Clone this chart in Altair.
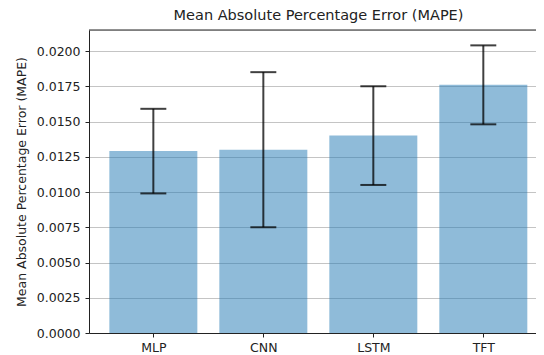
import altair as alt
import pandas as pd

models = ["MLP", "CNN", "LSTM", "TFT"]
mape_mean = [0.0129, 0.0130, 0.0140, 0.0176]
mape_err = [0.0030, 0.0055, 0.0035, 0.0028]
y_ticks = [0.0, 0.0025, 0.005, 0.0075, 0.01, 0.0125, 0.015, 0.0175, 0.02]

positions = list(range(len(models)))
df = pd.DataFrame({
    "model": models,
    "pos": positions,
    "mean": mape_mean,
    "err": mape_err,
})
df["x0"] = df["pos"] - 0.4
df["x1"] = df["pos"] + 0.4
df["lo"] = df["mean"] - df["err"]
df["hi"] = df["mean"] + df["err"]
df["c0"] = df["pos"] - 0.118
df["c1"] = df["pos"] + 0.118

W, H = 447, 303
label_expr = "[" + ",".join(f"'{m}'" for m in models) + "][datum.value]"

xscale = alt.Scale(domain=[-0.585, 3.479], nice=False, zero=False)
yscale = alt.Scale(domain=[0, 0.02149], nice=False, zero=True)

xaxis = alt.Axis(values=positions, labelExpr=label_expr, title=None, grid=False,
                 tickSize=4, tickColor="#222222", domainColor="#222222",
                 labelFontSize=12.5, labelColor="#222222", labelFont="DejaVu Sans",
                 labelPadding=4, labelAngle=0, labelOverlap=False)
yaxis = alt.Axis(values=y_ticks, format=".4f", tickCount=9,
                 title="Mean Absolute Percentage Error (MAPE)",
                 titleFontSize=12.5, titleFontWeight="normal", titleColor="#222222",
                 titleFont="DejaVu Sans", titlePadding=8,
                 grid=True, gridColor="#c4c4c4", gridWidth=1,
                 tickSize=4, tickColor="#222222", domainColor="#222222",
                 labelFontSize=12.5, labelColor="#222222", labelFont="DejaVu Sans",
                 labelPadding=5, labelOverlap=False, labelFlush=False)

base = alt.Chart(df)

bars = base.mark_bar(color="#1f77b4", opacity=0.5).encode(
    x=alt.X("x0:Q", scale=xscale, axis=xaxis),
    x2="x1:Q",
    y=alt.Y("mean:Q", scale=yscale, axis=yaxis),
    y2=alt.datum(0),
)

stems = base.mark_rule(color="#000000", opacity=0.75, strokeWidth=2).encode(
    x=alt.X("pos:Q", scale=xscale, axis=xaxis),
    y=alt.Y("lo:Q", scale=yscale, axis=yaxis),
    y2="hi:Q",
)

cap_hi = base.mark_rule(color="#000000", opacity=0.75, strokeWidth=2).encode(
    x=alt.X("c0:Q", scale=xscale, axis=xaxis),
    x2="c1:Q",
    y=alt.Y("hi:Q", scale=yscale, axis=yaxis),
)
cap_lo = base.mark_rule(color="#000000", opacity=0.75, strokeWidth=2).encode(
    x=alt.X("c0:Q", scale=xscale, axis=xaxis),
    x2="c1:Q",
    y=alt.Y("lo:Q", scale=yscale, axis=yaxis),
)

top_spine = alt.Chart(pd.DataFrame({"a": [0]})).mark_rule(color="#222222", strokeWidth=1).encode(
    x=alt.value(0), x2=alt.value(W), y=alt.value(0)
)

chart = alt.layer(bars, stems, cap_hi, cap_lo, top_spine).properties(
    width=W, height=H,
    title=alt.TitleParams("Mean Absolute Percentage Error (MAPE)", fontSize=14.5,
                          fontWeight="normal", font="DejaVu Sans", color="#222222",
                          anchor="middle", offset=6, dx=6),
    autosize=alt.AutoSizeParams(type="none"),
    padding={"left": 81, "top": 22, "right": 0, "bottom": 25},
).configure_view(stroke=None).configure(background="white")

chart.save("out.html", embed_options={"renderer": "svg", "actions": False})
